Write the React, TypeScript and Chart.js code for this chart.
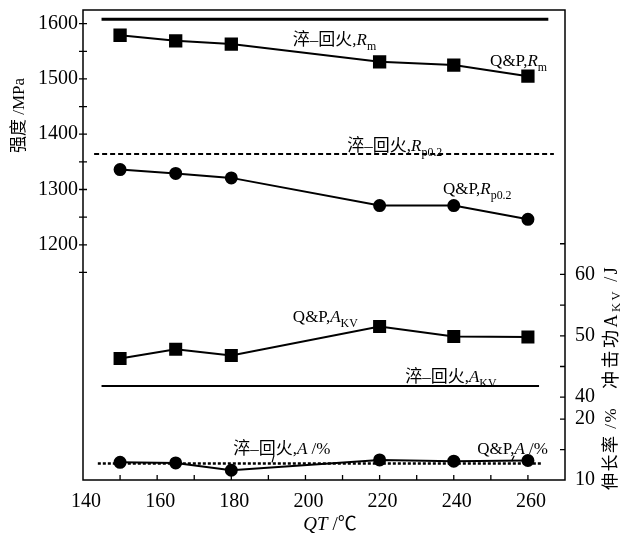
import React, { useEffect, useRef } from 'react';
import { Chart, registerables } from 'chart.js';

Chart.register(...registerables);

// ---- data ----
const qtValues = [150, 165, 180, 220, 240, 260];
const rmQP = [1579, 1569, 1563, 1531, 1525, 1505];
const rpQP = [1336, 1329, 1321, 1271, 1271, 1246];
const akvQP = [46.3, 47.8, 46.8, 51.5, 49.9, 49.8];
const elongQP = [12.9, 12.8, 11.6, 13.3, 13.1, 13.2];

// quench-temper reference levels (horizontal lines) and their x spans
const rmRef = 1608;
const rmRefX = [145, 265.5];
const rpRef = 1364;
const rpRefX = [143, 267];
const akvRef = 41.8;
const akvRefX = [145, 263];
const elongRef = 12.7;
const elongRefX = [144, 263.5];

// tick labels
const xTickLabels = [140, 160, 180, 200, 220, 240, 260];
const xTickMarks = [150, 160, 170, 180, 190, 200, 210, 220, 230, 240, 250, 260];
const strengthTickLabels = [1200, 1300, 1400, 1500, 1600];
const strengthTickMarks = [1150, 1200, 1250, 1300, 1350, 1400, 1450, 1500, 1550, 1600];
const impactTickLabels = [40, 50, 60];
const impactTickMarks = [40, 45, 50, 55, 60, 65];
const elongTickLabels = [10, 20];
const elongTickMarks = [15, 20];

type Part = { t: string; italic?: boolean; sub?: boolean };

const SERIF = '"Liberation Serif", "Noto Sans CJK SC", serif';

function drawRich(ctx: CanvasRenderingContext2D, x: number, y: number, parts: Part[], size: number) {
  let cx = x;
  for (const p of parts) {
    const s = p.sub ? size * 0.7 : size;
    ctx.font = `${p.italic ? 'italic ' : ''}${s}px ${SERIF}`;
    const dy = p.sub ? size * 0.28 : 0;
    ctx.fillText(p.t, cx, y + dy);
    cx += ctx.measureText(p.t).width;
  }
  return cx - x;
}

const QT = '淬–回火,';

const annotations: { x: number; y: number; axis: string; parts: Part[] }[] = [
  { x: 196.6, y: 1561, axis: 'yL', parts: [{ t: QT }, { t: 'R', italic: true }, { t: 'm', sub: true }] },
  { x: 249.8, y: 1523, axis: 'yL', parts: [{ t: 'Q&P,' }, { t: 'R', italic: true }, { t: 'm', sub: true }] },
  { x: 211.3, y: 1369, axis: 'yL', parts: [{ t: QT }, { t: 'R', italic: true }, { t: 'p0.2', sub: true }] },
  { x: 237.1, y: 1291, axis: 'yL', parts: [{ t: 'Q&P,' }, { t: 'R', italic: true }, { t: 'p0.2', sub: true }] },
  { x: 196.6, y: 52.2, axis: 'yI', parts: [{ t: 'Q&P,' }, { t: 'A', italic: true }, { t: 'KV', sub: true }] },
  { x: 226.9, y: 42.5, axis: 'yI', parts: [{ t: QT }, { t: 'A', italic: true }, { t: 'KV', sub: true }] },
  { x: 180.5, y: 14.3, axis: 'yE', parts: [{ t: QT }, { t: 'A', italic: true }, { t: ' /%' }] },
  { x: 246.3, y: 14.3, axis: 'yE', parts: [{ t: 'Q&P,' }, { t: 'A', italic: true }, { t: ' /%' }] },
];

const decorPlugin = {
  id: 'decor',
  beforeDatasetsDraw(chart: any) {
    const ctx: CanvasRenderingContext2D = chart.ctx;
    const ca = chart.chartArea;
    const sx = chart.scales.x, yL = chart.scales.yL, yI = chart.scales.yI, yE = chart.scales.yE;
    ctx.save();
    ctx.strokeStyle = '#000';
    ctx.lineWidth = 1.5;
    ctx.strokeRect(ca.left, ca.top, ca.right - ca.left, ca.bottom - ca.top);
    ctx.lineWidth = 1.3;
    ctx.beginPath();
    for (const v of xTickMarks) {
      const p = sx.getPixelForValue(v);
      ctx.moveTo(p, ca.bottom);
      ctx.lineTo(p, ca.bottom - 5);
    }
    for (const v of strengthTickMarks) {
      const p = yL.getPixelForValue(v);
      ctx.moveTo(ca.left - 4, p);
      ctx.lineTo(ca.left + 4, p);
    }
    for (const v of impactTickMarks) {
      const p = yI.getPixelForValue(v);
      ctx.moveTo(ca.right - 5, p);
      ctx.lineTo(ca.right, p);
    }
    for (const v of elongTickMarks) {
      const p = yE.getPixelForValue(v);
      ctx.moveTo(ca.right - 5, p);
      ctx.lineTo(ca.right, p);
    }
    ctx.stroke();

    // elongation tick labels (share the right axis line)
    ctx.fillStyle = '#000';
    ctx.font = `20px ${SERIF}`;
    ctx.textAlign = 'left';
    ctx.textBaseline = 'middle';
    for (const v of elongTickLabels) {
      ctx.fillText(String(v), ca.right + 10, yE.getPixelForValue(v));
    }
    ctx.restore();
  },
  afterDatasetsDraw(chart: any) {
    const ctx: CanvasRenderingContext2D = chart.ctx;
    const ca = chart.chartArea;
    const sx = chart.scales.x;
    ctx.save();
    ctx.fillStyle = '#000';
    ctx.textAlign = 'left';
    ctx.textBaseline = 'alphabetic';
    for (const a of annotations) {
      const px = sx.getPixelForValue(a.x);
      const py = chart.scales[a.axis].getPixelForValue(a.y);
      drawRich(ctx, px, py, a.parts, 17);
    }
    // small leader strokes for elongation labels
    const yE = chart.scales.yE;
    ctx.strokeStyle = '#000';
    ctx.lineWidth = 1.2;
    ctx.beginPath();
    ctx.moveTo(sx.getPixelForValue(191.5), yE.getPixelForValue(14.0));
    ctx.lineTo(sx.getPixelForValue(191.0), yE.getPixelForValue(12.9));
    ctx.moveTo(sx.getPixelForValue(256.3), yE.getPixelForValue(14.0));
    ctx.lineTo(sx.getPixelForValue(255.6), yE.getPixelForValue(13.1));
    ctx.stroke();

    // axis titles
    ctx.textBaseline = 'middle';
    ctx.save();
    ctx.translate(20, 153);
    ctx.rotate(-Math.PI / 2);
    drawRich(ctx, 0, 0, [{ t: '强度' }, { t: ' /MPa' }], 17);
    ctx.restore();

    ctx.save();
    (ctx as any).letterSpacing = '1.5px';
    ctx.translate(612, 490);
    ctx.rotate(-Math.PI / 2);
    drawRich(ctx, 0, 0, [{ t: '伸长率 /%' }], 17);
    ctx.restore();

    ctx.save();
    (ctx as any).letterSpacing = '2.5px';
    ctx.translate(612, 389);
    ctx.rotate(-Math.PI / 2);
    drawRich(ctx, 0, 0, [{ t: '冲击功A' }, { t: 'KV', sub: true }, { t: ' /J' }], 18);
    ctx.restore();

    // x title
    ctx.textBaseline = 'alphabetic';
    ctx.font = `italic 19px ${SERIF}`;
    const w1 = ctx.measureText('QT').width;
    ctx.font = `19px ${SERIF}`;
    const w2 = ctx.measureText(' /℃').width;
    const cxm = (ca.left + ca.right) / 2 + 6;
    drawRich(ctx, cxm - (w1 + w2) / 2, 530, [{ t: 'QT', italic: true }, { t: ' /℃' }], 19);
    ctx.restore();
  },
};

function pts(xs: number[], ys: number[]) {
  return xs.map((x, i) => ({ x, y: ys[i] }));
}
function refLine(xs: number[], y: number) {
  return xs.map((x) => ({ x, y }));
}

const tickFont = { family: SERIF, size: 20 };
const noPad = (s: any) => {
  s.paddingTop = 0;
  s.paddingBottom = 0;
  s.paddingLeft = 0;
  s.paddingRight = 0;
};

export default function App() {
  const ref = useRef<HTMLCanvasElement>(null);
  useEffect(() => {
    const canvas = ref.current!;
    const black = '#000';
    const chart = new Chart(canvas, {
      type: 'line',
      data: {
        datasets: [
          { data: refLine(rmRefX, rmRef), yAxisID: 'yL', borderColor: black, borderWidth: 3, pointRadius: 0 },
          { data: refLine(rpRefX, rpRef), yAxisID: 'yL', borderColor: black, borderWidth: 2, borderDash: [5, 3], pointRadius: 0 },
          { data: refLine(akvRefX, akvRef), yAxisID: 'yI', borderColor: black, borderWidth: 2, pointRadius: 0 },
          { data: refLine(elongRefX, elongRef), yAxisID: 'yE', borderColor: black, borderWidth: 2.5, borderDash: [3, 2], pointRadius: 0 },
          { data: pts(qtValues, rmQP), yAxisID: 'yL', borderColor: black, backgroundColor: black, borderWidth: 2, pointStyle: 'rect', pointRadius: 8 },
          { data: pts(qtValues, rpQP), yAxisID: 'yL', borderColor: black, backgroundColor: black, borderWidth: 2, pointStyle: 'circle', pointRadius: 5.5 },
          { data: pts(qtValues, akvQP), yAxisID: 'yI', borderColor: black, backgroundColor: black, borderWidth: 2, pointStyle: 'rect', pointRadius: 7.8 },
          { data: pts(qtValues, elongQP), yAxisID: 'yE', borderColor: black, backgroundColor: black, borderWidth: 2, pointStyle: 'circle', pointRadius: 5.5 },
        ],
      },
      options: {
        animation: false,
        responsive: false,
        events: [],
        layout: { padding: { top: 9, left: 0, right: 0, bottom: 0 } },
        plugins: { legend: { display: false }, tooltip: { enabled: false } },
        scales: {
          x: {
            type: 'linear',
            position: 'bottom',
            min: 140,
            max: 270,
            grid: { display: false, drawTicks: false },
            border: { display: false },
            ticks: { color: black, font: tickFont, padding: 10, labelOffset: 3, maxRotation: 0, autoSkip: false, callback: (v: any) => String(v) },
            afterBuildTicks: (s: any) => { s.ticks = xTickLabels.map((v) => ({ value: v })); },
            afterFit: (s: any) => { s.height = 64; noPad(s); },
          },
          yL: {
            type: 'linear',
            position: 'left',
            min: 774.5,
            max: 1624.7,
            grid: { display: false, drawTicks: false },
            border: { display: false },
            ticks: { color: black, font: tickFont, padding: 5, autoSkip: false, callback: (v: any) => String(v) },
            afterBuildTicks: (s: any) => { s.ticks = strengthTickLabels.map((v) => ({ value: v })); },
            afterFit: (s: any) => { s.width = 83; noPad(s); },
          },
          yI: {
            type: 'linear',
            position: 'right',
            min: 26.5,
            max: 103.1,
            grid: { display: false, drawTicks: false },
            border: { display: false },
            ticks: { color: black, font: tickFont, padding: 10, autoSkip: false, callback: (v: any) => String(v) },
            afterBuildTicks: (s: any) => { s.ticks = impactTickLabels.map((v) => ({ value: v })); },
            afterFit: (s: any) => { s.width = 65; noPad(s); },
          },
          yE: {
            type: 'linear',
            display: false,
            min: 10,
            max: 87.2,
          },
        },
      },
      plugins: [decorPlugin],
    } as any);
    return () => chart.destroy();
  }, []);
  return (
    <div style={{ position: 'fixed', left: 0, top: 0, width: 630, height: 544, background: '#fff' }}>
      <canvas ref={ref} width={630} height={544} style={{ width: 630, height: 544, display: 'block' }} />
    </div>
  );
}
